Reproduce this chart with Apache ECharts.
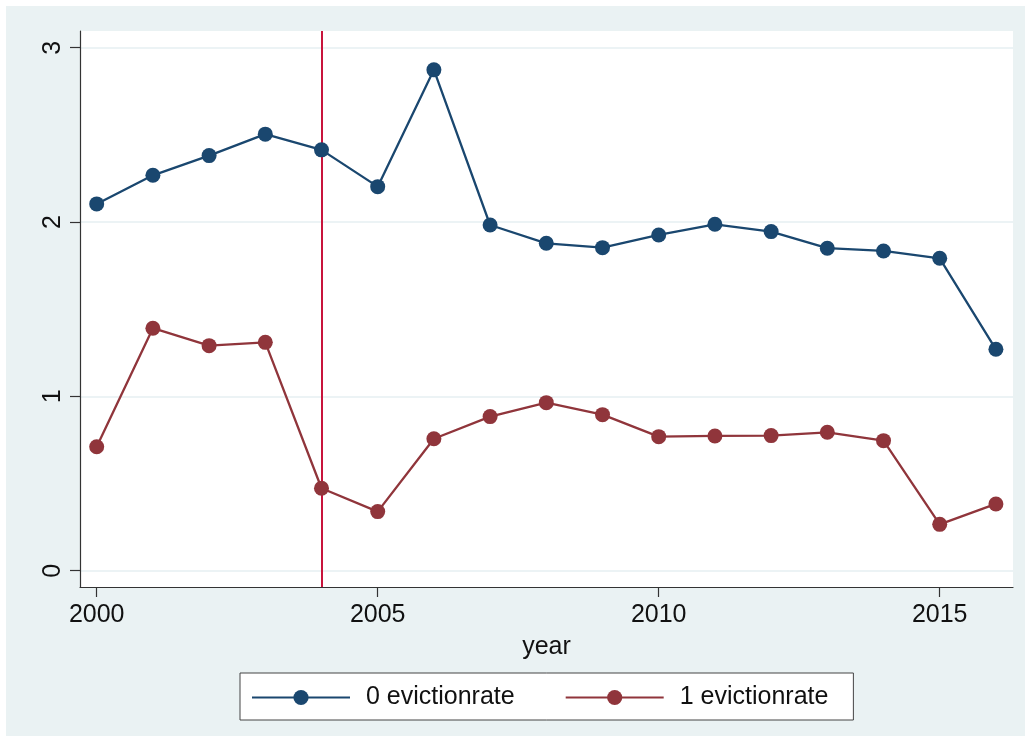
<!DOCTYPE html>
<html>
<head>
<meta charset="utf-8">
<script src="https://cdn.jsdelivr.net/npm/echarts@6/dist/echarts.min.js"></script>
<style>
  html, body { margin: 0; padding: 0; background: #ffffff; }
  #chart { position: absolute; left: 6px; top: 6px; width: 1019px; height: 730px; }
</style>
</head>
<body>
<div id="chart"></div>
<script>
const years = [2000, 2001, 2002, 2003, 2004, 2005, 2006, 2007, 2008, 2009, 2010, 2011, 2012, 2013, 2014, 2015, 2016];
const evict0 = [2.104, 2.268, 2.381, 2.504, 2.414, 2.203, 2.873, 1.983, 1.878, 1.853, 1.926, 1.987, 1.945, 1.850, 1.834, 1.792, 1.270];
const evict1 = [0.711, 1.391, 1.291, 1.310, 0.473, 0.339, 0.757, 0.884, 0.964, 0.895, 0.769, 0.773, 0.775, 0.794, 0.746, 0.266, 0.383];
const xTicks = [2000, 2005, 2010, 2015];
const yTicks = [0, 1, 2, 3];
const policyYear = 2004;
const seriesNames = ['0 evictionrate', '1 evictionrate'];

const chart = echarts.init(document.getElementById('chart'), null, { renderer: 'canvas' });
const font = 'Liberation Sans, Arial, Helvetica, sans-serif';

chart.setOption({
  animation: false,
  backgroundColor: '#EAF2F3',
  textStyle: { fontFamily: font },
  grid: {
    left: 74, top: 25, width: 933, height: 556,
    show: true, backgroundColor: '#ffffff', borderWidth: 0,
    containLabel: false
  },
  legend: {
    left: 234, top: 667,
    orient: 'horizontal',
    backgroundColor: '#ffffff',
    borderColor: '#444444', borderWidth: 1,
    padding: [12, 25, 10, 11],
    itemWidth: 98, itemHeight: 19, itemGap: 50,
    textStyle: { fontSize: 25, color: '#111111', fontFamily: font, padding: [0, 0, 0, 11] },
    data: seriesNames
  },
  xAxis: {
    type: 'value',
    min: 1999.703, max: 2016.304,
    name: 'year', nameLocation: 'middle', nameGap: 48,
    nameTextStyle: { fontSize: 25, color: '#111111', fontFamily: font },
    axisLine: { show: true, onZero: false, lineStyle: { color: '#333333', width: 1.2 } },
    axisTick: { show: true, length: 10, lineStyle: { color: '#333333', width: 1.2 }, customValues: xTicks },
    axisLabel: { fontSize: 25, color: '#111111', margin: 16, customValues: xTicks, formatter: v => String(v) },
    splitLine: { show: false }
  },
  yAxis: {
    type: 'value',
    min: -0.0935, max: 3.0958,
    axisLine: { show: true, onZero: false, lineStyle: { color: '#333333', width: 1.2 } },
    axisTick: { show: true, length: 10, lineStyle: { color: '#333333', width: 1.2 }, customValues: yTicks },
    axisLabel: { fontSize: 25, color: '#111111', margin: 14, rotate: 90, customValues: yTicks, formatter: v => String(v) },
    splitLine: { show: true, lineStyle: { color: '#E6EFF2', width: 1.6 } }
  },
  series: [
    {
      name: seriesNames[0],
      type: 'line',
      z: 3,
      data: years.map((y, i) => [y, evict0[i]]),
      symbol: 'circle', symbolSize: 15,
      lineStyle: { color: '#1A476F', width: 2.3 },
      itemStyle: { color: '#1A476F' },
      markLine: {
        z: 1,
        silent: true,
        symbol: ['none', 'none'],
        label: { show: false },
        lineStyle: { color: '#C8143C', width: 2, type: 'solid' },
        data: [{ xAxis: policyYear }]
      }
    },
    {
      name: seriesNames[1],
      type: 'line',
      z: 3,
      data: years.map((y, i) => [y, evict1[i]]),
      symbol: 'circle', symbolSize: 15,
      lineStyle: { color: '#90353B', width: 2.3 },
      itemStyle: { color: '#90353B' }
    }
  ]
});
</script>
</body>
</html>
